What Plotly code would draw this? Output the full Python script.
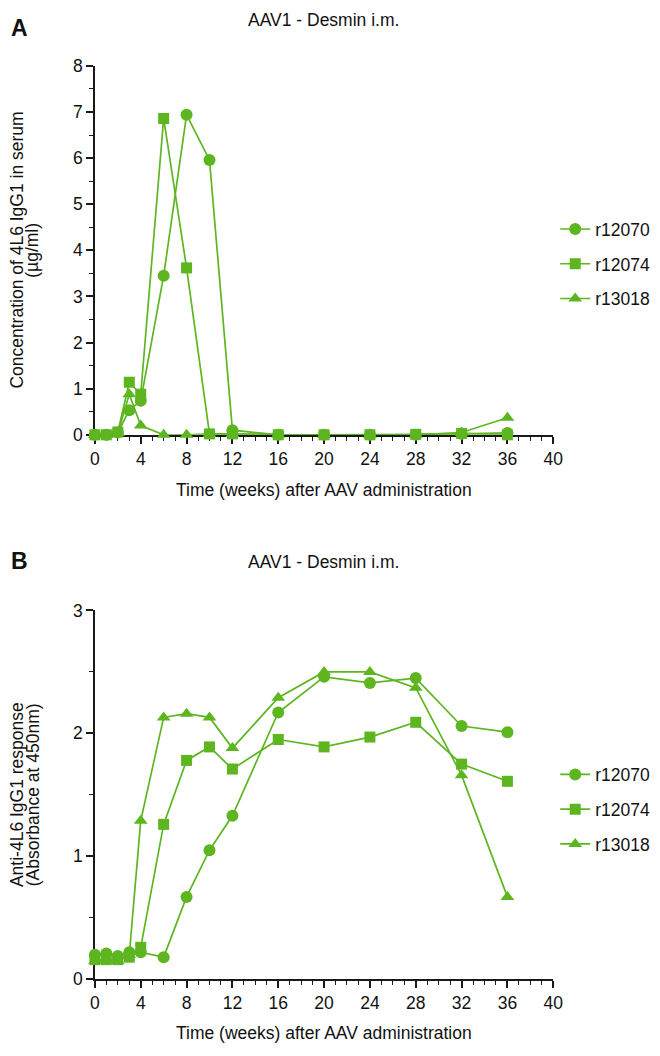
import plotly.graph_objects as go

# ---------------- data ----------------
weeks = [0, 1, 2, 3, 4, 6, 8, 10, 12, 16, 20, 24, 28, 32, 36]
animals = ["r12070", "r12074", "r13018"]

# Panel A: concentration of 4L6 IgG1 in serum (ug/ml)
serum_r12070 = [0.0, 0.0, 0.05, 0.53, 0.74, 3.45, 6.94, 5.96, 0.10, 0.0, 0.0, 0.0, 0.0, 0.02, 0.04]
serum_r12074 = [0.0, 0.0, 0.06, 1.14, 0.88, 6.86, 3.62, 0.02, 0.02, 0.0, 0.0, 0.0, 0.01, 0.03, 0.0]
serum_r13018 = [0.0, 0.0, 0.04, 0.88, 0.20, 0.0, 0.0, 0.02, 0.02, 0.0, 0.0, 0.0, 0.0, 0.05, 0.37]

# Panel B: anti-4L6 IgG1 response (absorbance at 450 nm)
abs_r12070 = [0.20, 0.21, 0.19, 0.22, 0.22, 0.18, 0.67, 1.05, 1.33, 2.17, 2.46, 2.41, 2.45, 2.06, 2.01]
abs_r12074 = [0.16, 0.16, 0.16, 0.18, 0.26, 1.26, 1.78, 1.89, 1.71, 1.95, 1.89, 1.97, 2.09, 1.75, 1.61]
abs_r13018 = [0.15, 0.15, 0.15, 0.20, 1.29, 2.13, 2.16, 2.13, 1.88, 2.29, 2.50, 2.50, 2.37, 1.66, 0.67]

x_ticks = list(range(0, 41, 4))
serum_ticks = list(range(0, 9))
abs_ticks = [0, 1, 2, 3]

symbols = ["circle", "square", "triangle-up"]
sizes = [12, 11, 12]
GREEN = "#5DB520"
FONT = "Liberation Sans, Arial, sans-serif"
AX = "#1a1a1a"

W, H = 660, 1056

def px_x(p):
    return p / W

def px_y(p):
    return 1 - p / H

fig = go.Figure()

serum = [serum_r12070, serum_r12074, serum_r13018]
absb = [abs_r12070, abs_r12074, abs_r13018]

for i, name in enumerate(animals):
    fig.add_trace(go.Scatter(
        x=weeks, y=serum[i], name=name, mode="lines+markers",
        line=dict(color=GREEN, width=1.7),
        marker=dict(symbol=symbols[i], size=sizes[i], color=GREEN, line=dict(width=0)),
        xaxis="x", yaxis="y", legend="legend", legendgroup="a" + name,
        cliponaxis=False,
    ))
for i, name in enumerate(animals):
    fig.add_trace(go.Scatter(
        x=weeks, y=absb[i], name=name, mode="lines+markers",
        line=dict(color=GREEN, width=1.7),
        marker=dict(symbol=symbols[i], size=sizes[i], color=GREEN, line=dict(width=0)),
        xaxis="x2", yaxis="y2", legend="legend2", legendgroup="b" + name,
        cliponaxis=False,
    ))

xdom = [px_x(92), px_x(561)]
common_x = dict(
    domain=xdom, range=[0, 40], tickvals=x_ticks, ticks="outside", ticklen=7,
    tickwidth=1.5, tickcolor=AX, showline=True, linewidth=1.5, linecolor=AX,
    showgrid=False, zeroline=False, layer="below traces",
    tickfont=dict(family=FONT, size=17.5, color="#111"),
    minor=dict(ticks="outside", dtick=1, ticklen=4, tickwidth=1.2, tickcolor=AX, showgrid=False),
)
common_y = dict(
    ticks="outside", ticklen=7, tickwidth=1.5, tickcolor=AX, showline=True,
    linewidth=1.5, linecolor=AX, showgrid=False, zeroline=False, layer="below traces",
    tickfont=dict(family=FONT, size=17.5, color="#111"),
    minor=dict(ticks="outside", dtick=0.5, ticklen=4, tickwidth=1.2, tickcolor=AX, showgrid=False),
)

fig.update_layout(
    width=W, height=H,
    margin=dict(l=0, r=0, t=0, b=0),
    paper_bgcolor="white", plot_bgcolor="white",
    font=dict(family=FONT, size=17.5, color="#111"),
    xaxis=dict(common_x, anchor="y"),
    yaxis=dict(common_y, domain=[px_y(433), px_y(57)], range=[0, 8], tickvals=serum_ticks, anchor="x"),
    xaxis2=dict(common_x, anchor="y2"),
    yaxis2=dict(common_y, domain=[px_y(988), px_y(612)], range=[0, 3], tickvals=abs_ticks, anchor="x2"),
    legend=dict(x=px_x(563), y=px_y(205), xanchor="left", yanchor="top",
                font=dict(family=FONT, size=17.5, color="#111"),
                tracegroupgap=9, bgcolor="rgba(0,0,0,0)"),
    legend2=dict(x=px_x(563), y=px_y(761), xanchor="left", yanchor="top",
                 font=dict(family=FONT, size=17.5, color="#111"),
                 tracegroupgap=9, bgcolor="rgba(0,0,0,0)"),
    showlegend=True,
)

ann = []
def add_text(text, x, y, size=17.5, angle=0, bold=False, xanchor="center"):
    ann.append(dict(
        text=("<b>%s</b>" % text) if bold else text,
        x=px_x(x), y=px_y(y), xref="paper", yref="paper",
        xanchor=xanchor, yanchor="middle", showarrow=False, textangle=angle,
        font=dict(family=FONT, size=size, color="#111"),
    ))

# panel letters
add_text("A", 15, 18, size=23, bold=True)
add_text("B", 15, 562, size=23, bold=True)
# titles
add_text("AAV1 - Desmin i.m.", 326, 10)
add_text("AAV1 - Desmin i.m.", 326, 563)
# x-axis titles
add_text("Time (weeks) after AAV administration", 326, 489)
add_text("Time (weeks) after AAV administration", 326, 1043)
# y-axis titles (two lines each)
add_text("Concentration of 4L6 IgG1 in serum", 12.5, 245, angle=-90)
add_text("(µg/ml)", 28, 245, angle=-90)
add_text("Anti-4L6 IgG1 response", 12.5, 800, angle=-90)
add_text("(Absorbance at 450nm)", 28, 800, angle=-90)

fig.update_layout(annotations=ann)

# remove the browser's default body margin so the figure fills the window exactly
fig.write_html(
    "out.html",
    config={"displayModeBar": False},
    post_script="document.body.style.margin='0px';",
)
